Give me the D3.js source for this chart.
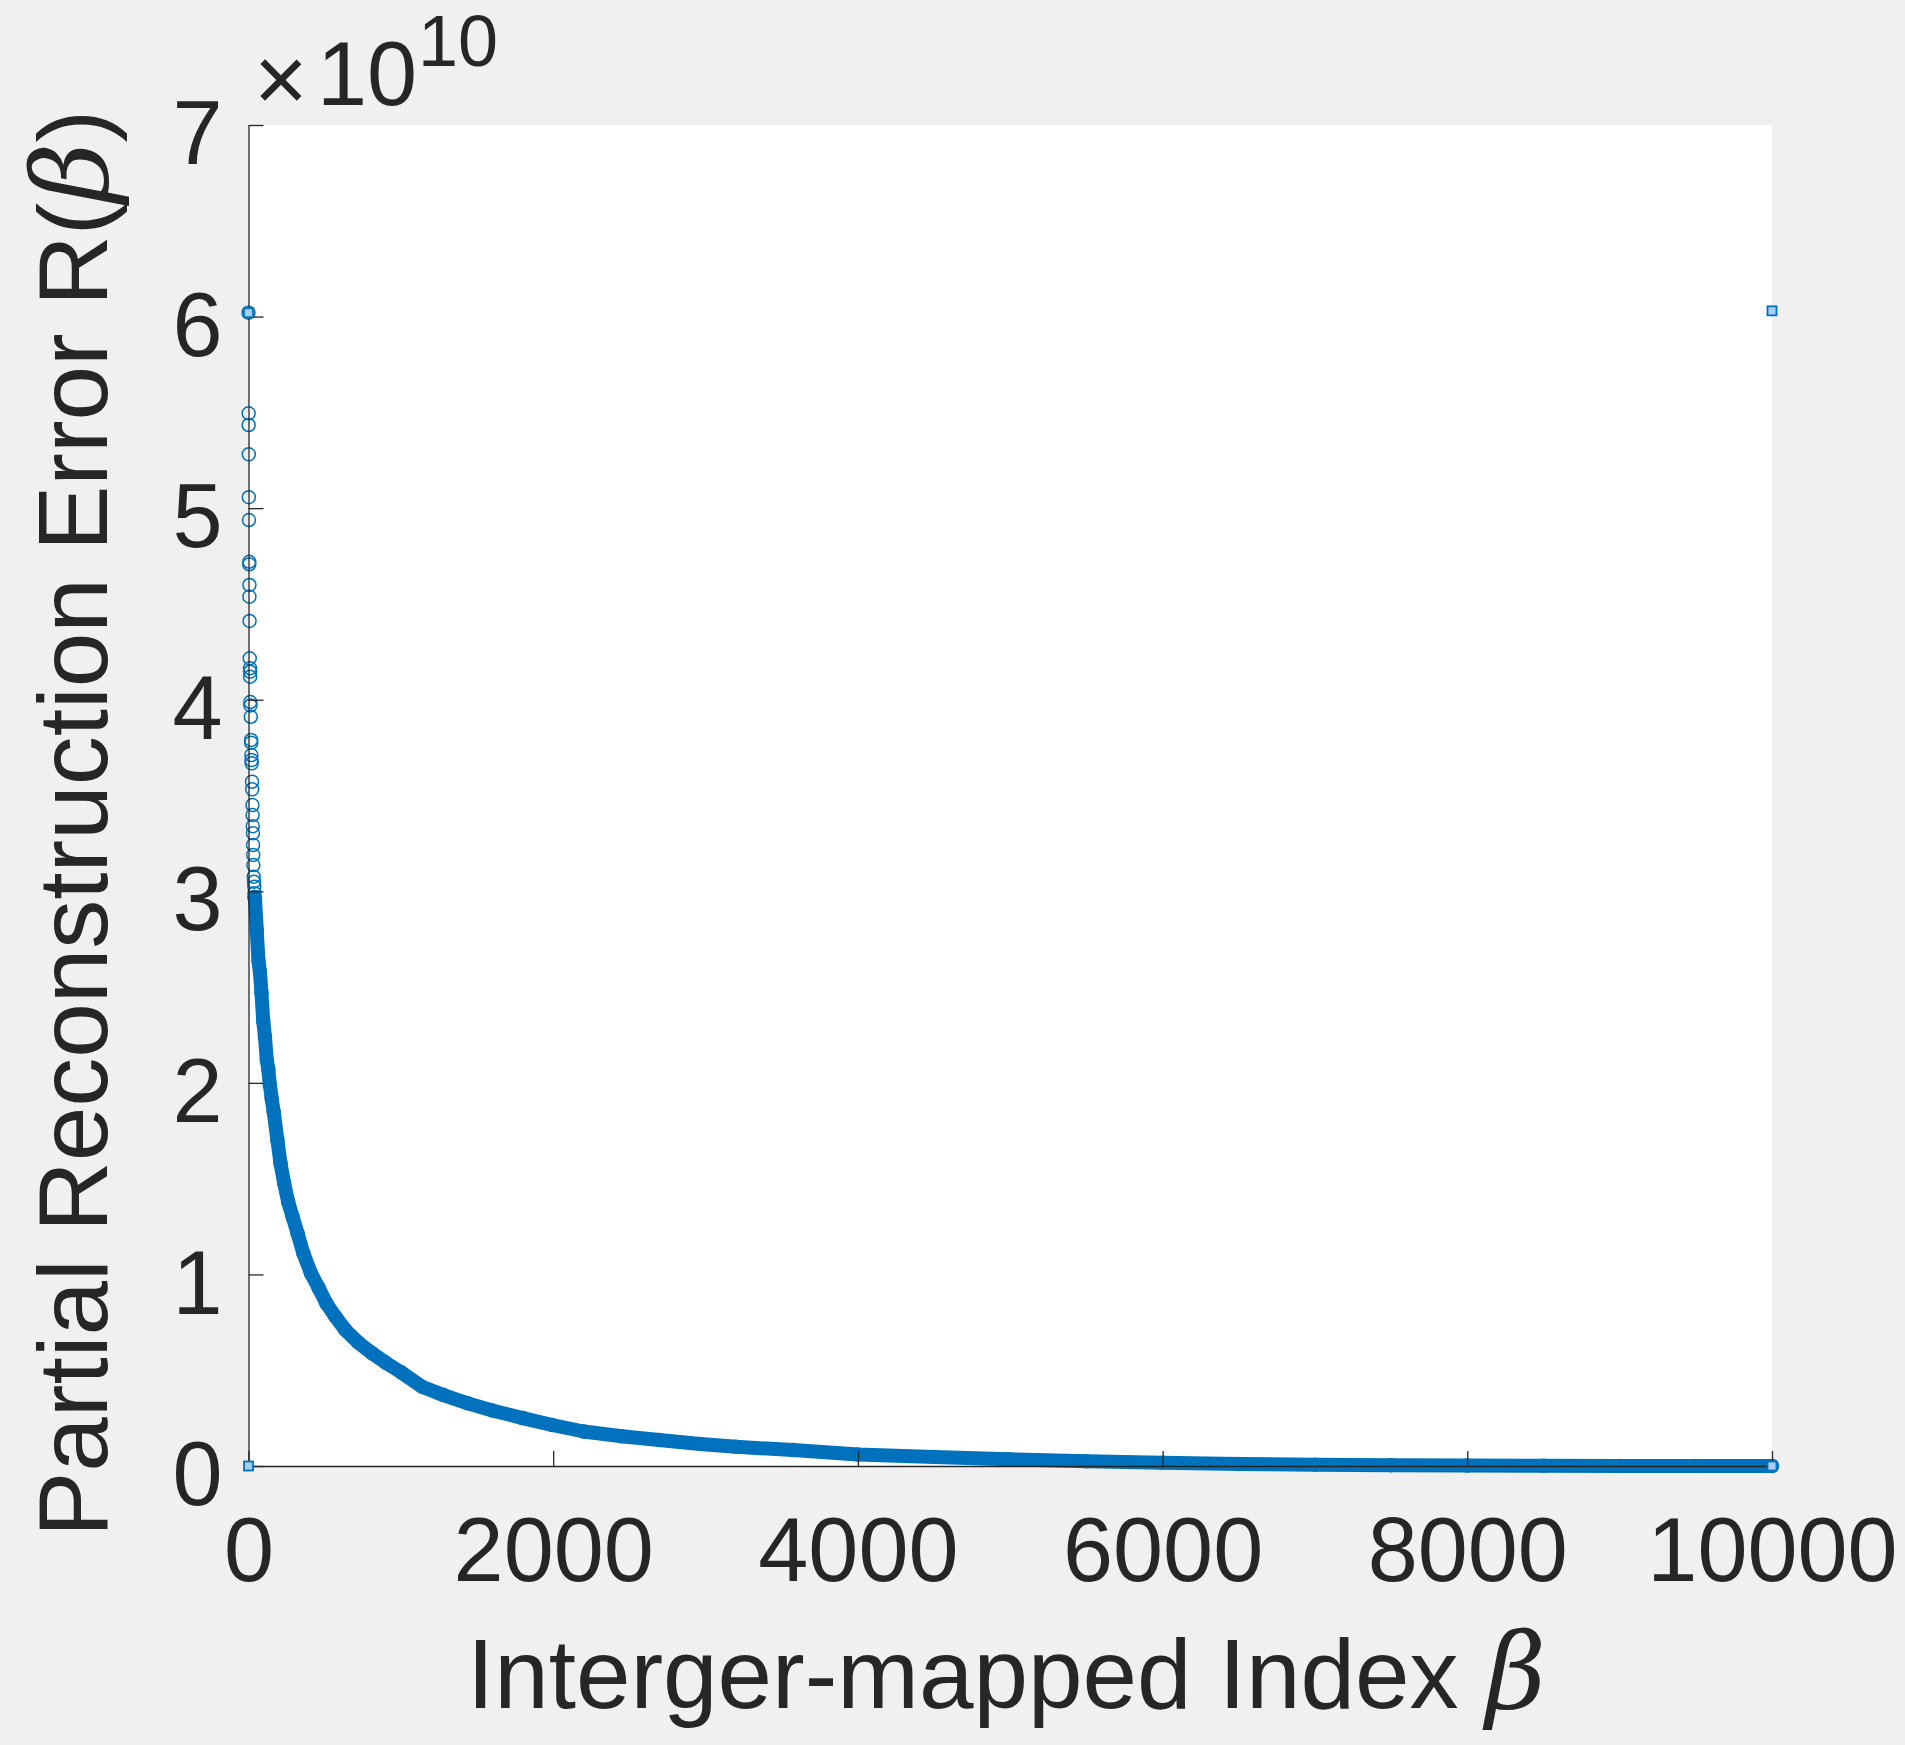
<!DOCTYPE html>
<html><head><meta charset="utf-8">
<script src="https://cdn.jsdelivr.net/npm/d3@7"></script>
<style>html,body{margin:0;padding:0;background:#f0f0f0;} svg{display:block}</style>
</head><body>
<svg id="chart" width="1905" height="1745"></svg>
<script>
// ---- data (R in units of 1e10) ----
const xTickValues = [0, 2000, 4000, 6000, 8000, 10000];
const xTickLabels = ["0", "2000", "4000", "6000", "8000", "10000"];
const yTickValues = [0, 1, 2, 3, 4, 5, 6, 7];
const yTickLabels = ["0", "1", "2", "3", "4", "5", "6", "7"];
const exponentLabel = "10";

// individually visible circle markers near beta = 0
const sparseBeta = [0, 1, 1, 2, 2, 3, 5, 5, 6, 6, 7, 8, 10, 11, 11, 12, 13, 15, 17, 18, 19, 20, 21, 23, 24, 26, 27, 28, 29, 30, 31, 32, 34, 36, 38, 39, 40];
const sparseR    = [6.02, 5.495, 5.434, 5.281, 5.057, 4.938, 4.72, 4.707, 4.599, 4.538, 4.411, 4.216, 4.164, 4.146, 4.12, 3.988, 3.97, 3.911, 3.79, 3.776, 3.711, 3.685, 3.668, 3.572, 3.532, 3.45, 3.398, 3.34, 3.303, 3.242, 3.19, 3.137, 3.076, 3.05, 3.024, 2.99, 2.97];

// dense band of markers (read along its centre)
const curveBeta = [40, 43, 54, 65, 75, 85, 97, 108, 120, 130, 140, 152, 165, 190, 210, 234, 260, 290, 322, 360, 410, 460, 511, 570, 636, 720, 812, 900, 1000, 1139, 1280, 1440, 1600, 1800, 1993, 2200, 2450, 2696, 2964, 3200, 3575, 4000, 4500, 4990, 5500, 6000, 6500, 7000, 7500, 8000, 8500, 9000, 9500, 10000];
const curveR    = [2.97, 2.955, 2.80, 2.64, 2.58, 2.47, 2.32, 2.24, 2.12, 2.07, 1.99, 1.92, 1.85, 1.70, 1.58, 1.476, 1.38, 1.30, 1.215, 1.11, 1.006, 0.93, 0.849, 0.78, 0.71, 0.645, 0.588, 0.54, 0.49, 0.414, 0.37, 0.327, 0.29, 0.25, 0.214, 0.18, 0.155, 0.136, 0.115, 0.10, 0.0835, 0.06, 0.047, 0.035, 0.025, 0.017, 0.011, 0.007, 0.004, 0.002, 0.001, 0.0005, 0.0002, 0];

// square markers
const squareBeta = [0, 10000, 0, 10000];
const squareR    = [6.02, 6.03, 0, 0];

// ---- drawing ----
const svg = d3.select("#chart");
const W = 1905, H = 1745;
const plot = {left: 248.5, right: 1772, top: 125, bottom: 1466};
const blue = "#0072BD", ink = "#262626";
const sans = "'Liberation Sans', Arial, Helvetica, sans-serif";
const serif = "'DejaVu Serif', 'Liberation Serif', serif";

const x = d3.scaleLinear().domain([0, 10000]).range([plot.left, plot.right]);
const y = d3.scaleLinear().domain([0, 7]).range([plot.bottom, plot.top]);

svg.append("rect").attr("width", W).attr("height", H).attr("fill", "#f0f0f0");
svg.append("rect").attr("x", plot.left).attr("y", plot.top)
  .attr("width", plot.right - plot.left).attr("height", plot.bottom - plot.top).attr("fill", "#ffffff");

// band
const curvePts = curveBeta.map((b, i) => [b, curveR[i]]);
svg.append("path").datum(curvePts)
  .attr("d", d3.line().x(d => x(d[0])).y(d => y(d[1])))
  .attr("fill", "none").attr("stroke", blue).attr("stroke-width", 14)
  .attr("stroke-linecap", "round").attr("stroke-linejoin", "round");

// circle markers
const circlePts = sparseBeta.map((b, i) => [b, sparseR[i]]).concat(curvePts);
svg.append("g").selectAll("circle").data(circlePts).join("circle")
  .attr("cx", d => x(d[0])).attr("cy", d => y(d[1])).attr("r", 6.5)
  .attr("fill", "none").attr("stroke", blue).attr("stroke-width", 1.5);

// axes
const gx = svg.append("g").attr("transform", `translate(0,${plot.bottom})`)
  .call(d3.axisBottom(x).tickValues(xTickValues).tickFormat((d, i) => xTickLabels[i])
    .tickSizeInner(-15).tickSizeOuter(0).tickPadding(51));
const gy = svg.append("g").attr("transform", `translate(${plot.left},0)`)
  .call(d3.axisLeft(y).tickValues(yTickValues).tickFormat((d, i) => yTickLabels[i])
    .tickSizeInner(-15).tickSizeOuter(0).tickPadding(26));
[gx, gy].forEach(g => {
  g.select(".domain").attr("stroke", ink).attr("stroke-width", 1.3);
  g.selectAll(".tick line").attr("stroke", ink).attr("stroke-width", 1.3);
  g.selectAll(".tick text").attr("fill", ink).attr("font-family", sans).attr("font-size", 90);
});
gy.selectAll(".tick text").attr("dy", "0.43em");

// square markers (drawn on top)
svg.append("g").selectAll("rect").data(squareBeta.map((b, i) => [b, squareR[i]])).join("rect")
  .attr("x", d => x(d[0]) - 4.5).attr("y", d => y(d[1]) - 4.5)
  .attr("width", 9).attr("height", 9)
  .attr("fill", "#a9cdef").attr("stroke", blue).attr("stroke-width", 1.8);

// exponent
svg.append("text").attr("x", 254).attr("y", 111).attr("font-family", sans).attr("font-size", 92)
  .attr("fill", ink).text("\u00D7");
svg.append("text").attr("x", 317).attr("y", 105).attr("font-family", sans).attr("font-size", 90)
  .attr("fill", ink).text("10");
svg.append("text").attr("x", 418).attr("y", 66).attr("font-family", sans).attr("font-size", 72)
  .attr("fill", ink).text(exponentLabel);

// x label
const xl = svg.append("text").attr("x", 467).attr("y", 1708)
  .attr("font-family", sans).attr("font-size", 98).attr("fill", ink);
xl.append("tspan").text("Interger-mapped Index ");
xl.append("tspan").attr("font-family", serif).attr("font-style", "italic").attr("font-size", 104).text("\u03B2");

// y label
const yl = svg.append("text").attr("transform", "translate(107,1537) rotate(-90)")
  .attr("font-family", sans).attr("font-size", 98).attr("fill", ink);
yl.append("tspan").text("Partial Reconstruction Error R(");
yl.append("tspan").attr("font-family", serif).attr("font-style", "italic").attr("font-size", 104).text("\u03B2");
yl.append("tspan").text(")");
</script>
</body></html>
